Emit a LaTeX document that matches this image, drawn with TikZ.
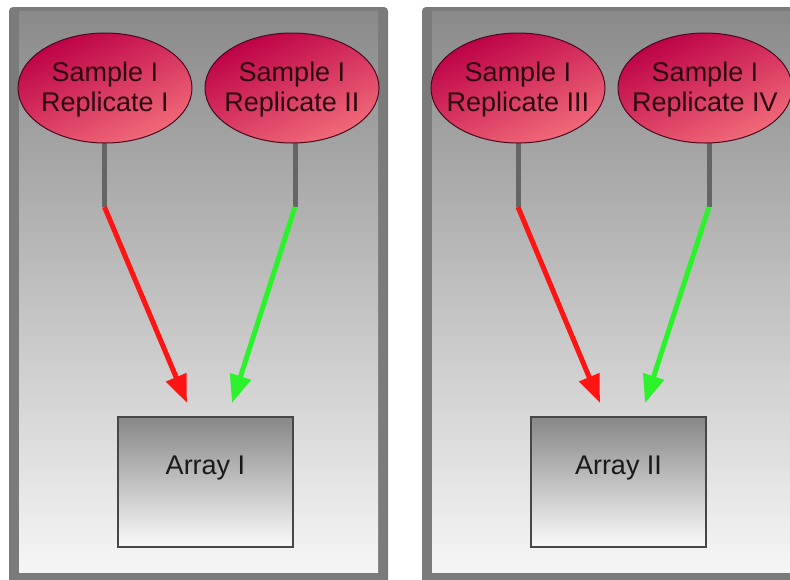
\documentclass[tikz,border=0pt]{standalone}
\usepackage{fontspec}
\setmainfont{Liberation Sans}
\usetikzlibrary{arrows.meta,shapes.geometric,positioning,calc}

\definecolor{paneledge}{HTML}{7B7B7B}
\definecolor{paneltop}{HTML}{8A8A8A}
\definecolor{panelbot}{HTML}{F6F6F6}
\definecolor{sampletop}{HTML}{BC0046}
\definecolor{samplebot}{HTML}{F26C7A}
\definecolor{sampleline}{HTML}{4A0A1E}
\definecolor{sampletext}{HTML}{2A0610}
\definecolor{chiptop}{HTML}{878787}
\definecolor{chipbot}{HTML}{FAFAFA}
\definecolor{chipline}{HTML}{474747}
\definecolor{stemgray}{HTML}{656565}
\definecolor{repred}{HTML}{FF1414}
\definecolor{repgreen}{HTML}{2CF22C}

\begin{document}
\begin{tikzpicture}[x=1pt,y=-1pt,
  sample/.style={ellipse, draw=sampleline, line width=1pt, top color=sampletop,
    bottom color=samplebot, shading angle=25, minimum width=174pt,
    minimum height=110pt, inner sep=0pt},
  samplelabel/.style={align=center, text=sampletext, yshift=-2pt,
    font=\fontsize{27}{30}\selectfont},
  chip/.style={rectangle, draw=chipline, line width=1.5pt, top color=chiptop,
    bottom color=chipbot, minimum width=175pt, minimum height=130pt},
  chiplabel/.style={font=\fontsize{27}{30}\selectfont, text=black!90, yshift=14pt},
  stem/.style={draw=stemgray, line width=5pt},
  feed/.style={line width=5pt, -{Triangle[length=28pt,width=21pt]}}]

\useasboundingbox (0,0) rectangle (790,579);
\fill[white] (0,0) rectangle (790,579);

% the two hybridisation panels
\foreach \x in {9,422} {
  \fill[paneledge, rounded corners=4pt] (\x,7) rectangle ++(379,600);
  \shade[top color=paneltop, bottom color=panelbot] (\x+10,11) rectangle ++(359,561);
}

\coordinate (b1) at (104.5,207);
\coordinate (b2) at (295,207);
\coordinate (b3) at (518,207);
\coordinate (b4) at (709,207);
\coordinate (t1) at (187,403);
\coordinate (t2) at (232,403);
\coordinate (t3) at (600,403);
\coordinate (t4) at (645,403);

\draw[stem] (b1 |- 0,140) -- (b1);
\draw[stem] (b2 |- 0,140) -- (b2);
\draw[stem] (b3 |- 0,140) -- (b3);
\draw[stem] (b4 |- 0,140) -- (b4);

\node[sample, label={[samplelabel]center:Sample I\\Replicate I}] (s1) at (105,88) {};
\node[sample, label={[samplelabel]center:Sample I\\Replicate II}] (s2) at (292,88) {};
\node[sample, label={[samplelabel]center:Sample I\\Replicate III}] (s3) at (518,88) {};
\node[sample, label={[samplelabel]center:Sample I\\Replicate IV}] (s4) at (705,88) {};

\node[chip, label={[chiplabel]center:Array I}] (a1) at (205.5,482) {};
\node[chip, label={[chiplabel]center:Array II}] (a2) at (618.5,482) {};

\draw[feed, repred] (b1) -- (t1);
\draw[feed, repgreen] (b2) -- (t2);
\draw[feed, repred] (b3) -- (t3);
\draw[feed, repgreen] (b4) -- (t4);
\end{tikzpicture}
\end{document}
